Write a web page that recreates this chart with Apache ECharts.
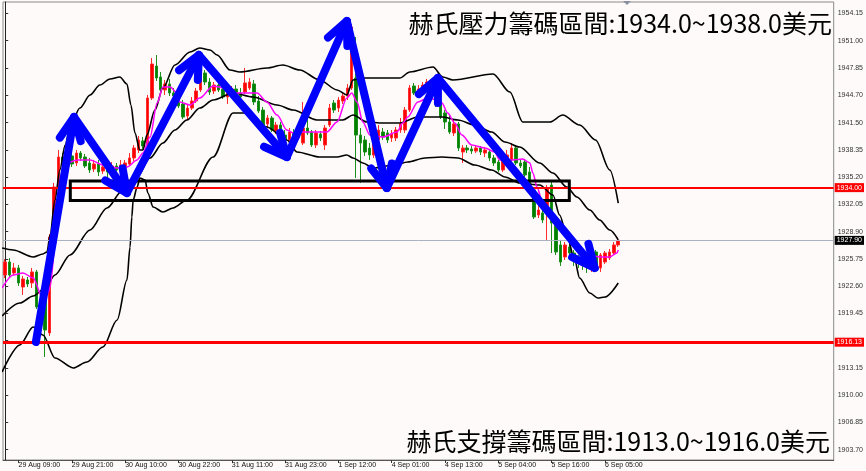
<!DOCTYPE html>
<html><head><meta charset="utf-8">
<script src="https://cdn.jsdelivr.net/npm/echarts@6/dist/echarts.min.js"></script>
<style>html,body{margin:0;padding:0;background:#fdfaf9}#c{width:866px;height:471px}</style>
</head><body><div id="c"></div>
<script>
// ---- data ----
const sessions = [['29 Aug',6,23],['30 Aug',1,23],['31 Aug',1,23],['1 Sep',1,23],['4 Sep',1,21],['5 Sep',1,23],['6 Sep',1,8]];
const futureSlots = 48;
const categories = [];
sessions.forEach(([d,h0,h1])=>{for(let h=h0;h<=h1;h++)categories.push(d+' '+String(h).padStart(2,'0')+':00');});
const lastBar = categories.length-1;
for(let i=0;i<futureSlots;i++)categories.push('');

const openP = [1923.90,1925.40,1924.13,1924.71,1922.51,1923.32,1922.98,1924.25,1920.32,1920.89,
1917.20,1928.29,1934.07,1937.54,1936.62,1937.66,1936.85,1938.00,1937.54,1936.85,
1936.15,1936.73,1935.92,1936.39,1935.81,1936.50,1935.92,1936.27,1936.73,1937.43,
1938.35,1939.39,1938.93,1944.36,1948.06,1946.79,1945.29,1945.98,1944.94,1944.71,
1943.67,1942.28,1943.20,1944.01,1945.29,1947.25,1946.21,1945.17,1945.86,1945.40,
1944.48,1944.71,1945.40,1944.94,1945.05,1945.52,1945.98,1944.01,1942.97,1941.36,
1942.05,1940.55,1941.24,1940.08,1939.51,1940.32,1939.74,1939.16,1940.89,1940.43,
1938.93,1940.20,1938.93,1941.24,1943.78,1943.20,1944.01,1944.59,1945.52,1946.67,
1940.08,1939.51,1938.58,1937.77,1939.51,1940.43,1940.32,1939.74,1939.74,1940.66,
1940.66,1942.97,1945.75,1944.94,1945.29,1945.63,1946.10,1944.71,1943.78,1942.63,
1941.59,1940.32,1941.36,1938.12,1938.58,1938.47,1938.23,1938.58,1938.00,1938.12,
1937.43,1936.96,1936.04,1937.20,1937.20,1938.58,1936.85,1936.96,1935.81,1933.73,
1930.84,1931.07,1931.07,1934.30,1929.91,1927.37,1925.98,1927.14,1926.44,1925.86,
1925.40,1925.06,1925.17,1926.56,1924.71,1925.40,1925.86,1926.44,1927.37];
const closeP = [1925.40,1923.90,1924.71,1922.98,1923.44,1922.86,1924.25,1920.20,1921.01,1917.54,
1928.29,1934.07,1937.54,1936.96,1937.66,1936.73,1938.00,1937.43,1936.50,1936.04,
1936.73,1935.81,1936.39,1935.81,1936.50,1936.04,1936.62,1936.85,1937.43,1938.58,
1939.51,1938.81,1944.36,1948.29,1946.67,1945.29,1945.98,1944.94,1944.59,1943.44,
1942.16,1943.20,1944.01,1945.17,1947.37,1946.21,1945.05,1945.86,1945.29,1944.48,
1944.94,1945.40,1944.82,1944.48,1946.10,1946.21,1943.90,1942.86,1941.24,1942.05,
1940.66,1941.24,1940.08,1939.51,1940.43,1939.74,1940.32,1940.89,1940.32,1938.93,
1940.32,1939.74,1940.89,1943.20,1942.97,1944.13,1944.59,1945.52,1952.57,1940.08,
1939.16,1938.12,1937.77,1939.51,1940.66,1939.85,1939.51,1940.20,1940.66,1941.36,
1942.97,1945.52,1944.94,1945.40,1945.86,1946.21,1944.71,1943.67,1942.16,1941.59,
1940.43,1941.36,1938.58,1938.58,1938.35,1938.23,1938.58,1938.12,1938.35,1937.43,
1936.85,1936.04,1937.20,1937.77,1938.58,1936.85,1936.50,1935.46,1933.73,1930.60,
1931.41,1930.26,1933.96,1929.91,1926.56,1925.40,1927.37,1926.44,1925.63,1925.40,
1925.06,1924.94,1925.86,1924.82,1926.21,1926.44,1926.56,1927.37,1927.90];
const lowP = [1923.55,1923.67,1923.90,1922.63,1921.59,1922.51,1922.40,1919.97,1919.51,1914.42,
1916.85,1927.95,1933.73,1936.27,1936.27,1936.39,1936.50,1937.08,1936.27,1935.69,
1935.81,1935.34,1935.58,1935.11,1935.34,1935.69,1935.81,1935.92,1936.50,1937.08,
1938.00,1938.47,1938.70,1944.13,1946.33,1944.94,1944.71,1944.59,1944.13,1943.20,
1941.93,1941.93,1942.97,1943.78,1945.05,1945.86,1944.71,1944.82,1945.05,1944.25,
1943.67,1944.36,1944.48,1944.13,1944.82,1945.29,1943.55,1942.63,1940.66,1941.01,
1940.43,1940.20,1939.74,1938.93,1939.16,1939.39,1939.51,1938.93,1940.08,1938.70,
1938.58,1939.39,1938.35,1941.01,1942.63,1942.74,1943.67,1944.13,1945.29,1935.11,
1934.54,1937.66,1937.20,1937.43,1939.16,1939.51,1939.16,1939.28,1939.39,1940.32,
1940.32,1942.74,1944.71,1944.59,1944.94,1945.29,1944.48,1943.32,1941.93,1940.78,
1940.20,1939.97,1938.23,1936.85,1938.00,1937.89,1938.00,1937.77,1937.54,1937.08,
1936.50,1935.81,1935.81,1936.85,1936.96,1936.62,1936.27,1935.23,1933.50,1930.37,
1930.49,1929.91,1927.95,1926.44,1926.21,1924.94,1925.63,1925.86,1924.94,1924.71,
1924.48,1924.13,1924.25,1924.48,1924.25,1925.17,1925.63,1926.21,1927.14];
const highP = [1925.75,1925.86,1925.29,1925.06,1923.78,1923.67,1924.71,1924.48,1921.59,1921.24,
1928.64,1934.54,1938.35,1938.00,1938.12,1938.12,1938.35,1938.23,1937.89,1937.43,
1937.20,1937.20,1936.85,1936.85,1936.96,1936.85,1937.20,1937.20,1938.00,1938.93,
1939.97,1939.85,1944.71,1948.99,1949.33,1947.37,1946.44,1946.56,1945.52,1945.29,
1944.13,1943.67,1944.48,1945.52,1947.94,1947.60,1946.67,1946.21,1946.21,1945.75,
1945.17,1945.75,1945.86,1945.52,1947.83,1946.67,1946.44,1944.59,1943.32,1942.39,
1942.28,1941.59,1941.59,1940.66,1940.89,1940.78,1941.12,1943.90,1942.16,1940.66,
1940.66,1940.55,1941.24,1943.67,1944.13,1944.48,1945.05,1945.98,1952.92,1951.41,
1940.89,1939.97,1939.16,1939.97,1941.24,1940.89,1940.66,1940.66,1941.01,1942.05,
1943.32,1945.86,1946.10,1945.86,1946.21,1946.56,1946.44,1945.05,1944.13,1942.97,
1942.39,1941.82,1941.59,1938.93,1938.93,1938.81,1938.93,1938.81,1938.70,1938.47,
1937.77,1937.20,1937.54,1938.35,1939.16,1938.93,1937.20,1937.20,1936.39,1933.96,
1931.99,1931.41,1934.30,1934.65,1930.26,1927.95,1927.71,1927.48,1926.79,1926.21,
1925.98,1925.40,1926.79,1926.79,1926.44,1926.67,1926.91,1927.71,1928.29];

// Bollinger bands and moving average: [bar index, price]
const upperBand = [[-0.7,1927.02],[1.8,1926.79],[6.3,1925.98],[8.5,1926.33],[9.4,1926.56],[10.1,1928.52],[11.2,1932.57],[12.3,1936.04],[13.5,1938.93],[14.6,1941.01],[16.8,1943.2],[19.1,1944.71],[21.3,1945.86],[23.6,1946.56],[25.8,1946.79],[27.4,1945.98],[28.3,1943.55],[29.2,1940.32],[30.3,1938.35],[31.0,1938.35],[31.9,1940.08],[33.7,1942.97],[35.5,1945.52],[38.2,1948.18],[41.6,1949.68],[43.8,1950.14],[46.1,1949.91],[47.7,1949.33],[50.6,1947.6],[52.8,1947.37],[58.9,1947.83],[62.5,1948.18],[66.3,1947.6],[70.8,1946.44],[74.7,1945.29],[76.9,1944.71],[78.3,1946.44],[80.5,1946.67],[88.8,1946.67],[91.1,1947.37],[96.3,1947.94],[98.5,1946.79],[100.8,1946.44],[109.8,1947.14],[113.6,1945.05],[116.5,1941.59],[122.6,1941.59],[125.5,1942.39],[129.3,1941.24],[132.9,1939.51],[136.1,1936.04],[138,1932.22]];
const middleBand = [[-0.7,1919.16],[3.3,1920.66],[6.3,1921.47],[9.0,1922.4],[11.2,1923.9],[14.6,1926.21],[19.1,1929.1],[22.9,1931.65],[26.5,1933.73],[29.7,1935.23],[32.6,1937.43],[35.5,1939.16],[38.2,1940.66],[40.9,1941.82],[43.8,1943.2],[46.8,1944.13],[51.3,1944.94],[55.8,1944.48],[61.2,1943.55],[64.8,1942.97],[70.2,1941.82],[76.0,1941.82],[78.3,1942.39],[81.4,1941.59],[85.0,1941.47],[88.8,1941.47],[92.9,1942.16],[98.3,1942.16],[101.9,1941.82],[105.7,1941.24],[109.5,1940.43],[112.5,1939.28],[115.8,1938.7],[120.3,1936.85],[123.3,1935.69],[126.4,1934.07],[128.7,1932.92],[131.6,1931.41],[133.8,1930.26],[136.1,1929.1],[138,1927.95]];
const lowerBand = [[-0.7,1912.69],[3.3,1915.81],[6.3,1917.89],[8.5,1916.96],[11.2,1914.3],[15.3,1913.15],[18.4,1913.84],[22.0,1915.58],[25.2,1918.7],[27.4,1923.32],[28.1,1927.14],[28.5,1930.6],[28.8,1932.57],[29.7,1934.07],[30.3,1935.11],[31.5,1934.88],[32.1,1933.38],[33.3,1931.76],[35.5,1931.18],[37.8,1931.65],[40.9,1932.57],[46.8,1937.54],[51.3,1942.63],[54.4,1942.63],[58.9,1941.01],[63.4,1939.51],[65.7,1938.12],[70.8,1937.54],[74.7,1937.54],[76.9,1937.77],[78.3,1937.43],[80.5,1936.85],[82.8,1936.27],[87.7,1936.62],[90.6,1936.96],[94.5,1937.43],[98.3,1937.54],[101.9,1937.43],[105.7,1936.62],[109.5,1936.04],[112.5,1935.23],[115.8,1934.54],[120.3,1934.3],[123.3,1933.15],[124.8,1930.84],[126.4,1928.52],[128.2,1925.63],[129.3,1923.55],[131.6,1921.82],[133.4,1921.24],[135.0,1921.36],[138,1922.98]];
const maLine = [[-0.7,1922.4],[1.8,1923.9],[4.0,1924.13],[6.3,1923.55],[8.3,1921.36],[9.6,1921.82],[10.1,1922.51],[11.2,1927.14],[12.3,1932.22],[13.0,1936.04],[13.9,1936.85],[16.2,1937.2],[19.1,1937.2],[22.0,1936.62],[25.2,1936.27],[27.4,1936.39],[29.7,1937.2],[31.0,1938.0],[32.6,1939.85],[34.2,1943.78],[35.5,1945.63],[37.1,1945.63],[38.7,1944.94],[39.3,1943.9],[41.6,1943.55],[43.8,1944.36],[46.8,1945.75],[48.3,1945.63],[51.3,1944.94],[54.4,1944.94],[56.7,1944.94],[58.9,1943.9],[61.2,1942.39],[63.4,1940.66],[64.8,1940.32],[67.0,1940.43],[72.4,1940.43],[74.7,1941.59],[76.9,1944.36],[78.0,1944.94],[79.2,1943.9],[80.5,1941.59],[82.1,1940.08],[85.0,1939.85],[88.2,1940.43],[89.5,1941.47],[90.6,1942.16],[92.9,1943.9],[95.1,1944.36],[97.4,1944.13],[98.3,1943.78],[99.6,1942.63],[101.2,1941.47],[102.8,1940.08],[105.0,1938.93],[108.0,1938.58],[110.2,1938.12],[111.3,1937.2],[114.3,1937.2],[116.5,1937.31],[118.1,1936.85],[118.8,1935.69],[119.7,1934.07],[120.8,1932.57],[121.9,1931.76],[123.3,1930.49],[124.8,1929.33],[126.4,1928.29],[127.8,1927.37],[129.3,1926.56],[131.6,1926.21],[133.8,1925.98],[136.1,1925.98],[137.7,1926.44],[138,1926.79]];

// hand-drawn annotations in chart units [bar index, price]
const arrowPath = [[6.9,1916.15],[15.5,1942.16],[27.4,1933.38],[43.6,1949.33],[63.4,1937.54],[76.9,1953.26],[85.9,1933.96],[97.4,1946.67],[132.7,1924.71]];
const boxX = [14.65,126.98];
const boxY = [1932.51,1934.77];

const resistanceLevel = 1934.00;
const supportLevel = 1916.13;
const lastPrice = 1927.90;
const yTicks = [1903.70,1906.85,1910.00,1913.15,1916.30,1919.45,1922.60,1925.75,1928.90,1932.05,1935.20,1938.35,1941.50,1944.70,1947.85,1951.00,1954.15];
const yMin = 1902.51, yMax = 1955.46;
const labelEvery = 12, firstLabel = 3;
const topText = '赫氏壓力籌碼區間:1934.0~1938.0美元';
const bottomText = '赫氏支撐籌碼區間:1913.0~1916.0美元';

// ---- chart ----
const candleData = openP.map((o,i)=>[o, closeP[i], lowP[i], highP[i]]);
const arrowSegs = arrowPath.slice(1).map((p,i)=>[arrowPath[i][0],arrowPath[i][1],p[0],p[1]]);
const showIdx = (i)=> i>=firstLabel && i<=lastBar && (i-firstLabel)%labelEvery===0;
const axisFont = 'Liberation Sans';

const chart = echarts.init(document.getElementById('c'), null, {renderer:'canvas'});
const bandSeries = (data, color, width) => ({
  type:'line', xAxisIndex:1, yAxisIndex:0, data, smooth:0.3, smoothMonotone:'x',
  showSymbol:false, symbol:'none', silent:true, z:4,
  lineStyle:{color, width}
});

chart.setOption({
  animation:false,
  backgroundColor:'#fdfaf9',
  grid:{left:3, right:32, top:2, bottom:11, show:true, borderColor:'#8a8a8a', borderWidth:1, backgroundColor:'transparent'},
  xAxis:[{
    type:'category', data:categories, boundaryGap:true,
    axisLine:{show:true, lineStyle:{color:'#555', width:1}},
    axisTick:{show:true, interval:(i)=>showIdx(i), alignWithLabel:true, length:3, lineStyle:{color:'#333'}},
    axisLabel:{interval:(i)=>showIdx(i), align:'left', margin:2, fontSize:7, fontFamily:axisFont, color:'#111'},
    splitLine:{show:false}
  },{
    type:'value', min:-0.5, max:categories.length-0.5, show:false
  }],
  yAxis:[{
    type:'value', position:'right', min:yMin, max:yMax, scale:true,
    axisLine:{show:true, lineStyle:{color:'#222', width:1}},
    axisTick:{show:true, customValues:yTicks, length:3, lineStyle:{color:'#333'}},
    axisLabel:{customValues:yTicks, formatter:(v)=>v.toFixed(2), fontSize:7, fontFamily:axisFont, color:'#333', margin:4},
    splitLine:{show:false}
  }],
  series:[
    {
      type:'candlestick', xAxisIndex:0, yAxisIndex:0, data:candleData, barWidth:3, z:3,
      itemStyle:{color:'#ff0000', color0:'#008000', borderColor:'#ff2a2a', borderColor0:'#1a8f1a', borderWidth:1},
      markLine:{
        silent:true, symbol:'none', z:6, animation:false,
        data:[
          {yAxis:lastPrice, lineStyle:{color:'#aab2c2', width:1, type:'solid'},
           label:{show:true, position:'end', distance:1, formatter:lastPrice.toFixed(2), backgroundColor:'#000', color:'#fff', fontSize:7, fontFamily:axisFont, padding:[1,2,1,2]}},
          {yAxis:resistanceLevel, lineStyle:{color:'#ff0000', width:2, type:'solid'},
           label:{show:true, position:'end', distance:1, formatter:resistanceLevel.toFixed(2), backgroundColor:'#ff0000', color:'#fff', fontSize:7, fontFamily:axisFont, padding:[1,2,1,2]}},
          {yAxis:supportLevel, lineStyle:{color:'#ff0000', width:3, type:'solid'},
           label:{show:true, position:'end', distance:1, formatter:supportLevel.toFixed(2), backgroundColor:'#ff0000', color:'#fff', fontSize:7, fontFamily:axisFont, padding:[1,2,1,2]}}
        ]
      }
    },
    bandSeries(upperBand,'#000',1.6),
    bandSeries(middleBand,'#000',1.6),
    bandSeries(lowerBand,'#000',1.6),
    bandSeries(maLine,'#ff00ff',1.5),
    {
      type:'custom', xAxisIndex:1, yAxisIndex:0, z:8, silent:true, clip:false,
      data:[[boxX[0],boxY[1],boxX[1],boxY[0]]],
      encode:{x:[0,2], y:[1,3]},
      renderItem:(params, api)=>{
        const a = api.coord([api.value(0), api.value(1)]);
        const b = api.coord([api.value(2), api.value(3)]);
        return {type:'rect', shape:{x:a[0], y:a[1], width:b[0]-a[0], height:b[1]-a[1]},
          style:{fill:null, stroke:'#000', lineWidth:3}};
      }
    },
    {
      type:'custom', xAxisIndex:1, yAxisIndex:0, z:9, silent:true, clip:false,
      data:arrowSegs,
      encode:{x:[0,2], y:[1,3]},
      renderItem:(params, api)=>{
        const p1 = api.coord([api.value(0), api.value(1)]);
        const p2 = api.coord([api.value(2), api.value(3)]);
        const dx = p2[0]-p1[0], dy = p2[1]-p1[1], len = Math.hypot(dx,dy);
        const bx = -dx/len, by = -dy/len;
        const L = 25, ang = 25*Math.PI/180;
        const rot = (t)=>[bx*Math.cos(t)-by*Math.sin(t), bx*Math.sin(t)+by*Math.cos(t)];
        const r1 = rot(ang), r2 = rot(-ang);
        const st = {stroke:'#0000ff', lineWidth:8, lineCap:'round', lineJoin:'round', fill:null};
        return {type:'group', children:[
          {type:'line', shape:{x1:p1[0], y1:p1[1], x2:p2[0], y2:p2[1]}, style:st},
          {type:'polyline', shape:{points:[[p2[0]+r1[0]*L, p2[1]+r1[1]*L], [p2[0],p2[1]], [p2[0]+r2[0]*L, p2[1]+r2[1]*L]]}, style:st}
        ]};
      }
    }
  ],
  graphic:[
    {type:'polygon', z:100, silent:true, shape:{points:[[623,1],[631,1],[627,5]]}, style:{fill:'#8a8fa0'}},
    {type:'text', right:34, top:11, z:100, silent:true,
     style:{text:topText, fill:'#000', font:'25px "Noto Sans CJK TC"'}},
    {type:'text', right:36, top:429, z:100, silent:true,
     style:{text:bottomText, fill:'#000', font:'25px "Noto Sans CJK TC"'}}
  ]
});
</script>
</body></html>
